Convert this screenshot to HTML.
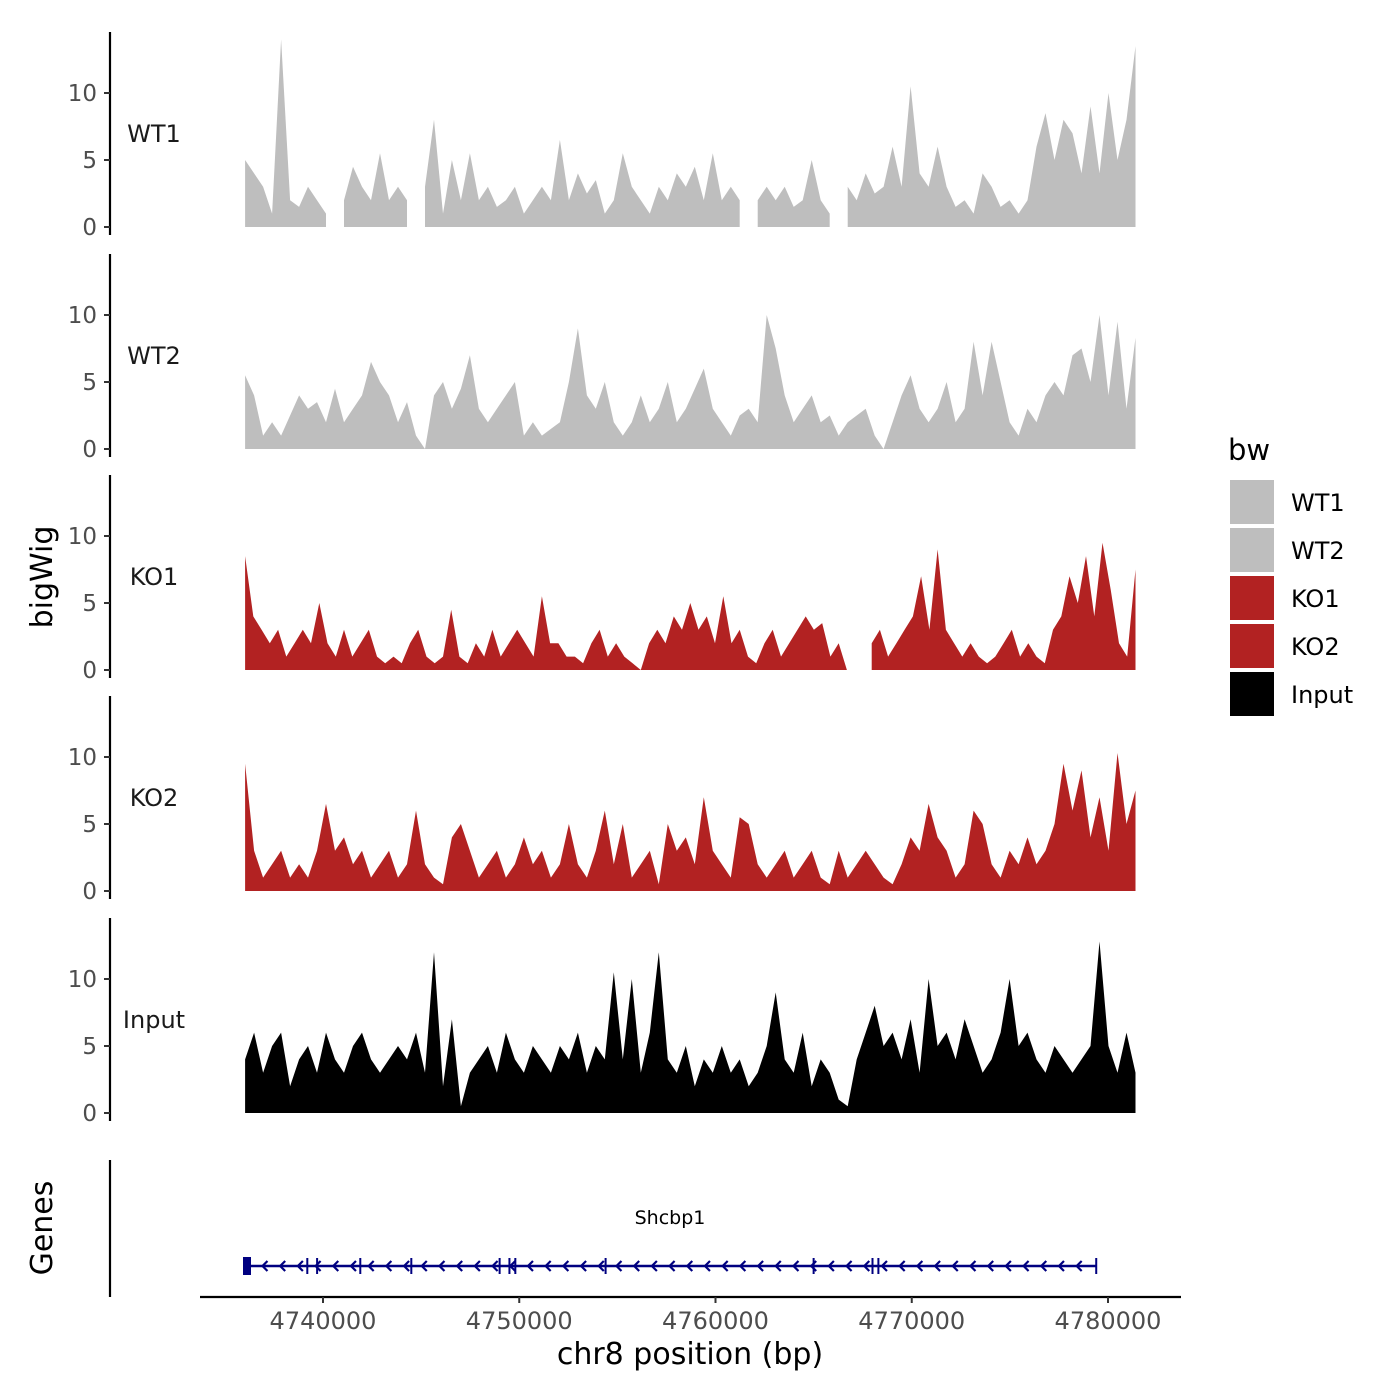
<!DOCTYPE html>
<html><head><meta charset="utf-8"><style>
body{margin:0;background:#fff}
svg{display:block;font-family:"DejaVu Sans","Liberation Sans",sans-serif}
</style></head><body>
<svg id="chart" width="1400" height="1400" viewBox="0 0 1400 1400" xmlns="http://www.w3.org/2000/svg"></svg>
<script>
const trackNames = ["WT1","WT2","KO1","KO2","Input"];
const trackColors = ["#bebebe","#bebebe","#b22222","#b22222","#000000"];
const yTicks = [0,5,10];
const xTicks = [4740000,4750000,4760000,4770000,4780000];
const xTickLabels = ["4740000","4750000","4760000","4770000","4780000"];
const bpStart = 4736030, bpEnd = 4781400;
const wt1 = [5,4,3,1,14,2,1.5,3,2,1,null,2,4.5,3,2,5.5,2,3,2,null,3,8,1,5,2,5.5,2,3,1.5,2,3,1,2,3,2,6.5,2,4,2.5,3.5,1,2,5.5,3,2,1,3,2,4,3,4.5,2,5.5,2,3,2,null,2,3,2,3,1.5,2,5,2,1,null,3,2,4,2.5,3,6,3,10.5,4,3,6,3,1.5,2,1,4,3,1.5,2,1,2,6,8.5,5,8,7,4,9,4,10,5,8,13.5];
const wt2 = [5.5,4,1,2,1,2.5,4,3,3.5,2,4.5,2,3,4,6.5,5,4,2,3.5,1,0,4,5,3,4.5,7,3,2,3,4,5,1,2,1,1.5,2,5,9,4,3,5,2,1,2,4,2,3,5,2,3,4.5,6,3,2,1,2.5,3,2,10,7.5,4,2,3,4,2,2.5,1,2,2.5,3,1,0,2,4,5.5,3,2,3,5,2,3,8,4,8,5,2,1,3,2,4,5,4,7,7.5,5,10,4,9.5,3,8.3];
const ko1 = [8.5,4,3,2,3,1,2,3,2,5,2,1,3,1,2,3,1,0.5,1,0.5,2,3,1,0.5,1,4.5,1,0.5,2,1,3,1,2,3,2,1,5.5,2,2,1,1,0.5,2,3,1,2,1,0.5,0,2,3,2,4,3,5,3,4,2,5.5,2,3,1,0.5,2,3,1,2,3,4,3,3.5,1,2,0,null,null,2,3,1,2,3,4,7,3,9,3,2,1,2,1,0.5,1,2,3,1,2,1,0.5,3,4,7,5,8.5,4,9.5,6,2,1,7.5];
const ko2 = [9.5,3,1,2,3,1,2,1,3,6.5,3,4,2,3,1,2,3,1,2,6,2,1,0.5,4,5,3,1,2,3,1,2,4,2,3,1,2,5,2,1,3,6,2,5,1,2,3,0.5,5,3,4,2,7,3,2,1,5.5,5,2,1,2,3,1,2,3,1,0.5,3,1,2,3,2,1,0.5,2,4,3,6.5,4,3,1,2,6,5,2,1,3,2,4,2,3,5,9.5,6,9,4,7,3,10.3,5,7.5];
const inp = [4,6,3,5,6,2,4,5,3,6,4,3,5,6,4,3,4,5,4,6,3,12,2,7,0.5,3,4,5,3,6,4,3,5,4,3,5,4,6,3,5,4,10.5,4,10,3,6,12,4,3,5,2,4,3,5,3,4,2,3,5,9,4,3,6,2,4,3,1,0.5,4,6,8,5,6,4,7,3,10,5,6,4,7,5,3,4,6,10,5,6,4,3,5,4,3,4,5,12.8,5,3,6,3];
const trackData = [wt1,wt2,ko1,ko2,inp];
const exonPos = [4736150,4739200,4739700,4741900,4744500,4749000,4749500,4749800,4754400,4765000,4768000,4768300,4779400];

const svg = document.getElementById('chart');
const NS = "http://www.w3.org/2000/svg";
function mk(tag, attrs, parent){const e=document.createElementNS(NS,tag);for(const k in attrs)e.setAttribute(k,attrs[k]);(parent||svg).appendChild(e);return e;}
const xScale = bp => 323 + (bp-4740000)*(1108-323)/40000;
const pxPerUnit = 13.4;
const zeros = [227,449,670,891,1113];

trackNames.forEach((name,t)=>{
  const g = mk('g',{});
  
  
  const y0 = zeros[t];
  const yScale = v => y0 - v*pxPerUnit;
  const data = trackData[t];
  const n = data.length;
  const xs = i => xScale(bpStart + i*(bpEnd-bpStart)/(n-1));
  let seg = [];
  const segs = [];
  data.forEach((v,i)=>{ if(v===null){ if(seg.length)segs.push(seg); seg=[]; } else seg.push([xs(i),yScale(v)]); });
  if(seg.length)segs.push(seg);
  segs.forEach(s=>{
    let d = 'M'+s[0][0].toFixed(1)+','+y0;
    s.forEach(p=>{ d+=' L'+p[0].toFixed(1)+','+p[1].toFixed(1); });
    d += ' L'+s[s.length-1][0].toFixed(1)+','+y0+' Z';
    const a = mk('path',{d:d,fill:trackColors[t]},g);
    
    
  });
  const ax = mk('line',{x1:110,x2:110,y1:y0-195,y2:y0+8,stroke:'#000','stroke-width':2.2},g);
  
  
  yTicks.forEach(v=>{
    const yy = yScale(v);
    mk('line',{x1:104,x2:110,y1:yy,y2:yy,stroke:'#333','stroke-width':2},g);
    const tl = mk('text',{x:97,y:yy+8,'text-anchor':'end','font-size':23,fill:'#4d4d4d'},g);
    tl.textContent = v;
    
    
  });
  const lb = mk('text',{x:154,y:y0-85,'text-anchor':'middle','font-size':24,fill:'#1a1a1a'},g);
  lb.textContent = name;
  
  
});

// genes panel
const gg = mk('g',{});


mk('line',{x1:110,x2:110,y1:1160,y2:1297,stroke:'#000','stroke-width':2.2},gg);
const gy = 1266, gx1 = xScale(4736050), gx2 = xScale(4779400);
const gl = mk('line',{x1:gx1,x2:gx2,y1:gy,y2:gy,stroke:'#000080','stroke-width':2.5},gg);


for(let x=gx1+17; x<gx2-8; x+=17.7){
  mk('path',{d:`M${x+5},${gy-5} L${x},${gy} L${x+5},${gy+5}`,fill:'none',stroke:'#000080','stroke-width':2.2},gg);
}
mk('rect',{x:243,y:1257,width:8,height:18,fill:'#000080'},gg);
exonPos.forEach(b=>{ const x=xScale(b); mk('line',{x1:x,x2:x,y1:gy-8,y2:gy+8,stroke:'#000080','stroke-width':2},gg); });
const gt = mk('text',{x:670,y:1224,'text-anchor':'middle','font-size':19,fill:'#000'},gg);
gt.textContent = 'Shcbp1';



// x axis
const xa = mk('g',{});


mk('line',{x1:200,x2:1181,y1:1297,y2:1297,stroke:'#000','stroke-width':2.2},xa);
xTicks.forEach((b,i)=>{
  const x = xScale(b);
  mk('line',{x1:x,x2:x,y1:1297,y2:1303,stroke:'#333','stroke-width':2},xa);
  const tl = mk('text',{x:x,y:1329,'text-anchor':'middle','font-size':24,fill:'#4d4d4d'},xa);
  tl.textContent = xTickLabels[i];
  
  
});
const xt = mk('text',{x:690,y:1364,'text-anchor':'middle','font-size':30,fill:'#000'});
xt.textContent = 'chr8 position (bp)';


const yt = mk('text',{x:0,y:0,'text-anchor':'middle','font-size':30,fill:'#000',transform:'translate(52,577) rotate(-90)'});
yt.textContent = 'bigWig';


const gtt = mk('text',{x:0,y:0,'text-anchor':'middle','font-size':30,fill:'#000',transform:'translate(52,1228) rotate(-90)'});
gtt.textContent = 'Genes';



// legend
const lg = mk('g',{});


const ltitle = mk('text',{x:1228,y:460,'font-size':29,fill:'#000'},lg);
ltitle.textContent = 'bw';
trackNames.forEach((name,i)=>{
  const y = 480 + i*48;
  const r = mk('rect',{x:1230,y:y,width:44,height:44,fill:trackColors[i]},lg);
  
  
  const t = mk('text',{x:1291,y:y+31,'font-size':24,fill:'#000'},lg);
  t.textContent = name;
  
  
});
</script>
</body></html>
